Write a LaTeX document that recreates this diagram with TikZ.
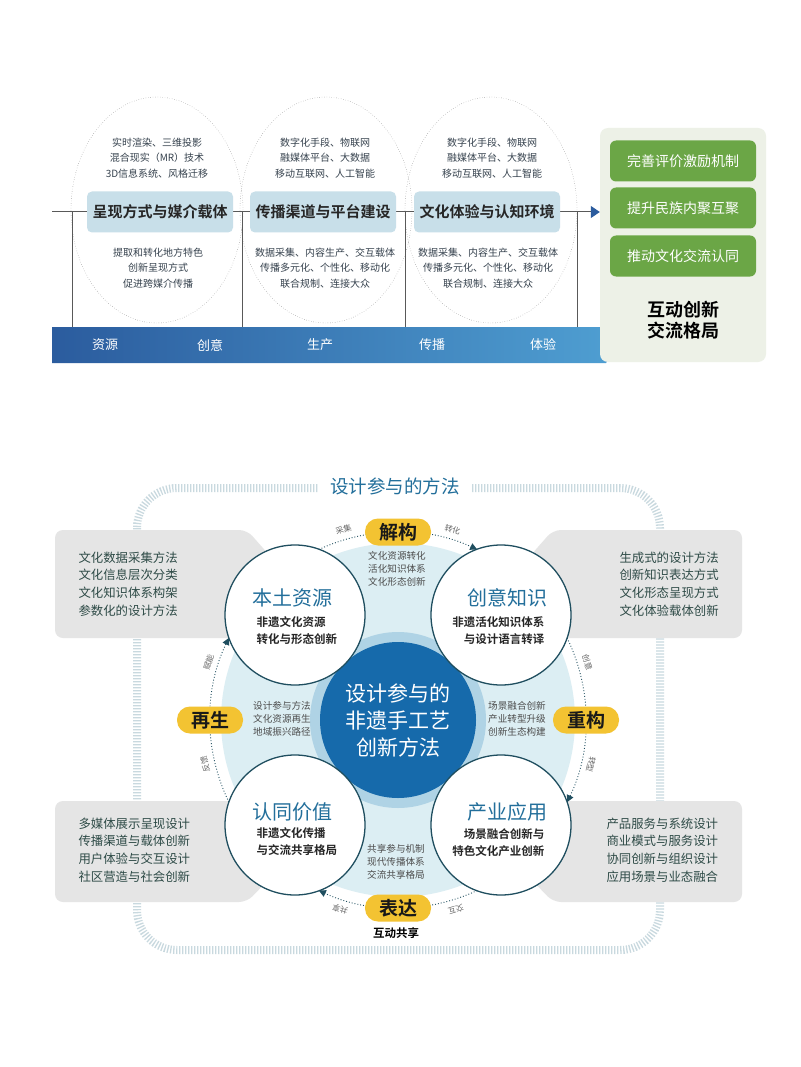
\documentclass[tikz,border=0pt]{standalone}
\usepackage{fontspec}
\setmainfont{Noto Sans CJK SC}[BoldFont={Noto Sans CJK SC Bold}]
\usetikzlibrary{arrows.meta}

\newcommand{\setfs}[2]{\fontsize{#1}{#2}\selectfont}

\definecolor{barL}{HTML}{2B5C9E}
\definecolor{barR}{HTML}{4F9FD2}
\definecolor{boxblue}{HTML}{C8DFE9}
\definecolor{panel}{HTML}{EDF1E7}
\definecolor{leaf}{HTML}{6BA646}
\definecolor{ink}{HTML}{36424E}
\definecolor{teal}{HTML}{1F4E5F}
\definecolor{titleblue}{HTML}{236F9B}
\definecolor{coreblue}{HTML}{166AAB}
\definecolor{ringblue}{HTML}{AFD3E5}
\definecolor{mist}{HTML}{DCEEF3}
\definecolor{pillyellow}{HTML}{F3C332}
\definecolor{greybox}{HTML}{E5E5E5}
\definecolor{greytext}{HTML}{2D4A46}
\definecolor{framecol}{HTML}{C9D9DF}

\tikzset{
  stage/.style={fill=boxblue, rounded corners=5pt, minimum width=146pt, minimum height=41pt,
    font=\bfseries\setfs{15}{15}, text=black!85},
  note/.style={align=center, font=\setfs{10}{15.5}, text=ink},
  phase/.style={font=\setfs{13}{13}, text=white},
  lever/.style={fill=leaf, rounded corners=6pt, minimum width=146pt, minimum height=41pt,
    font=\setfs{14}{14}, text=white},
  list/.style={anchor=west, align=left, font=\setfs{12.4}{17.6}, text=greytext},
  hub/.style={circle, draw=teal, line width=1.3pt, fill=white, minimum size=140pt, inner sep=0pt},
  hubtitle/.style={font=\setfs{20}{20}, text=titleblue},
  hubsub/.style={font=\bfseries\setfs{11.5}{17}, text=black!85},
  inner/.style={align=center, font=\setfs{9.6}{13}, text=black!70},
  pill/.style={fill=pillyellow, rounded corners=13pt, minimum width=66pt, minimum height=27pt,
    font=\bfseries\setfs{19}{19}, text=black!90},
  tag/.style={inner sep=0.5pt, font=\setfs{8}{8}, text=black!60},
  loop/.style={dotted, line width=0.9pt, teal, -{Triangle[length=7pt,width=7pt]}}
}

\begin{document}
\begin{tikzpicture}[x=1pt, y=1pt]
  \useasboundingbox (0,0) rectangle (800,-1067);
  \fill[white] (0,0) rectangle (800,-1067);

  % top: stages
  \foreach \cx in {157,326,491}
    \draw[dotted, thin, black!55] (\cx,-210) ellipse [x radius=86, y radius=113];
  \shade[left color=barL, right color=barR] (52,-327) -- (606,-327) -- (618,-345)
    -- (606,-363) -- (52,-363) -- cycle;
  \foreach \x in {72,242,405,577}
    \draw[line width=1pt, black!65] (\x,-212) -- (\x,-327);

  \node[fill=panel, rounded corners=8pt, minimum width=166pt, minimum height=234pt] (panel) at (683,-245) {};
  \coordinate (start) at (52,-212);
  \draw[line width=1pt, black!65, -{Triangle[length=9pt,width=12pt,fill=barL,color=barL]}]
    (start) -- (start -| panel.west);

  \node[stage] (s1) at (160,-212) {呈现方式与媒介载体};
  \node[stage] (s2) at (323,-212) {传播渠道与平台建设};
  \node[stage] (s3) at (487,-212) {文化体验与认知环境};

  \node[note] (u1) at (157,-158) {实时渲染、三维投影\\混合现实（MR）技术\\3D信息系统、风格迁移};
  \node[note] (u2) at (325,-158) {数字化手段、物联网\\融媒体平台、大数据\\移动互联网、人工智能};
  \node[note] (u3) at (492,-158) {数字化手段、物联网\\融媒体平台、大数据\\移动互联网、人工智能};
  \node[note] (l1) at (158,-268) {提取和转化地方特色\\创新呈现方式\\促进跨媒介传播};
  \node[note] (l2) at (325,-268) {数据采集、内容生产、交互载体\\传播多元化、个性化、移动化\\联合规制、连接大众};
  \node[note] (l3) at (488,-268) {数据采集、内容生产、交互载体\\传播多元化、个性化、移动化\\联合规制、连接大众};

  \node[phase] (p1) at (105,-345) {资源};
  \node[phase] (p2) at (210,-345) {创意};
  \node[phase] (p3) at (320,-345) {生产};
  \node[phase] (p4) at (432,-345) {传播};
  \node[phase] (p5) at (543,-345) {体验};

  \node[lever] (g1) at (683,-161) {完善评价激励机制};
  \node[lever] (g2) at (683,-208) {提升民族内聚互聚};
  \node[lever] (g3) at (683,-256) {推动文化交流认同};
  \node[align=center, font=\bfseries\setfs{18}{21}] (goal) at (683,-320) {互动创新\\交流格局};

  % bottom: method wheel
  \draw[framecol, line width=8pt, dash pattern=on 1.3pt off 1.7pt, rounded corners=40pt]
    (137,-488) rectangle (660,-950);
  \node[fill=white, inner xsep=12pt, font=\setfs{18.5}{18.5}, text=titleblue] (title) at (395,-486) {设计参与的方法};

  \fill[greybox, rounded corners=8pt] (55,-530) -- (247,-530) -- (270,-556) -- (270,-638) -- (55,-638) -- cycle;
  \fill[greybox, rounded corners=8pt] (742,-530) -- (553,-530) -- (530,-556) -- (530,-638) -- (742,-638) -- cycle;
  \fill[greybox, rounded corners=8pt] (55,-801) -- (270,-801) -- (270,-878) -- (247,-902) -- (55,-902) -- cycle;
  \fill[greybox, rounded corners=8pt] (742,-801) -- (530,-801) -- (530,-878) -- (553,-902) -- (742,-902) -- cycle;

  \node[list] (m1) at (75,-584) {文化数据采集方法\\文化信息层次分类\\文化知识体系构架\\参数化的设计方法};
  \node[list] (m2) at (616,-584) {生成式的设计方法\\创新知识表达方式\\文化形态呈现方式\\文化体验载体创新};
  \node[list] (m3) at (75,-850) {多媒体展示呈现设计\\传播渠道与载体创新\\用户体验与交互设计\\社区营造与社会创新};
  \node[list] (m4) at (603,-850) {产品服务与系统设计\\商业模式与服务设计\\协同创新与组织设计\\应用场景与业态融合};

  \coordinate (C) at (398,-720);
  \fill[mist] (C) circle (177);
  \fill[ringblue] (C) circle (88);
  \node[circle, fill=coreblue, minimum size=156pt, align=center, text=white,
    font=\setfs{21}{27}] (core) at (C) {设计参与的\\非遗手工艺\\创新方法};

  \node[hub] (src) at (295,-615) {};
  \node[hub] (know) at (501,-615) {};
  \node[hub] (value) at (295,-825) {};
  \node[hub] (use) at (501,-825) {};

  \node[hubtitle] (src-t) at (292,-598) {本土资源};
  \node[hubsub, anchor=west, align=left] (src-s) at (253,-631) {非遗文化资源\\转化与形态创新};
  \node[hubtitle] (know-t) at (507,-598) {创意知识};
  \node[hubsub, anchor=east, align=right] (know-s) at (548,-631) {非遗活化知识体系\\与设计语言转译};
  \node[hubtitle] (value-t) at (292,-812) {认同价值};
  \node[hubsub, anchor=west, align=left] (value-s) at (253,-842) {非遗文化传播\\与交流共享格局};
  \node[hubtitle] (use-t) at (507,-812) {产业应用};
  \node[hubsub, anchor=east, align=right] (use-s) at (548,-843) {场景融合创新与\\特色文化产业创新};

  \node[inner] (i1) at (397,-569) {文化资源转化\\活化知识体系\\文化形态创新};
  \node[inner] (i2) at (282,-719) {设计参与方法\\文化资源再生\\地域振兴路径};
  \node[inner] (i3) at (517,-719) {场景融合创新\\产业转型升级\\创新生态构建};
  \node[inner] (i4) at (396,-862) {共享参与机制\\现代传播体系\\交流共享格局};

  % cycle
  \draw[loop] ([shift={(114.9:188)}]C) arc[start angle=114.9, end angle=65.1, radius=188];
  \draw[loop] ([shift={(25.9:188)}]C) arc[start angle=25.9, end angle=-25.9, radius=188];
  \draw[loop] ([shift={(-65.1:188)}]C) arc[start angle=-65.1, end angle=-114.9, radius=188];
  \draw[loop] ([shift={(205.9:188)}]C) arc[start angle=205.9, end angle=154.1, radius=188];

  \node[tag, rotate=16] (t1) at ([shift={(106:198)}]C) {采集};
  \node[tag, rotate=-16] (t2) at ([shift={(74:198)}]C) {转化};
  \node[tag, rotate=-73] (t3) at ([shift={(17:198)}]C) {创意};
  \node[tag, rotate=-103] (t4) at ([shift={(-13:198)}]C) {转型};
  \node[tag, rotate=-163] (t5) at ([shift={(-73:198)}]C) {交互};
  \node[tag, rotate=163] (t6) at ([shift={(-107:198)}]C) {共享};
  \node[tag, rotate=103] (t7) at ([shift={(193:198)}]C) {反馈};
  \node[tag, rotate=73] (t8) at ([shift={(163:198)}]C) {赋能};

  \node[pill] (jie) at ([shift={(90:188)}]C) {解构};
  \node[pill] (chong) at ([shift={(0:188)}]C) {重构};
  \node[pill] (biao) at ([shift={(-90:188)}]C) {表达};
  \node[pill] (zai) at ([shift={(180:188)}]C) {再生};
  \node[font=\bfseries\setfs{11.5}{11.5}] (share) at (396,-933) {互动共享};
\end{tikzpicture}
\end{document}
